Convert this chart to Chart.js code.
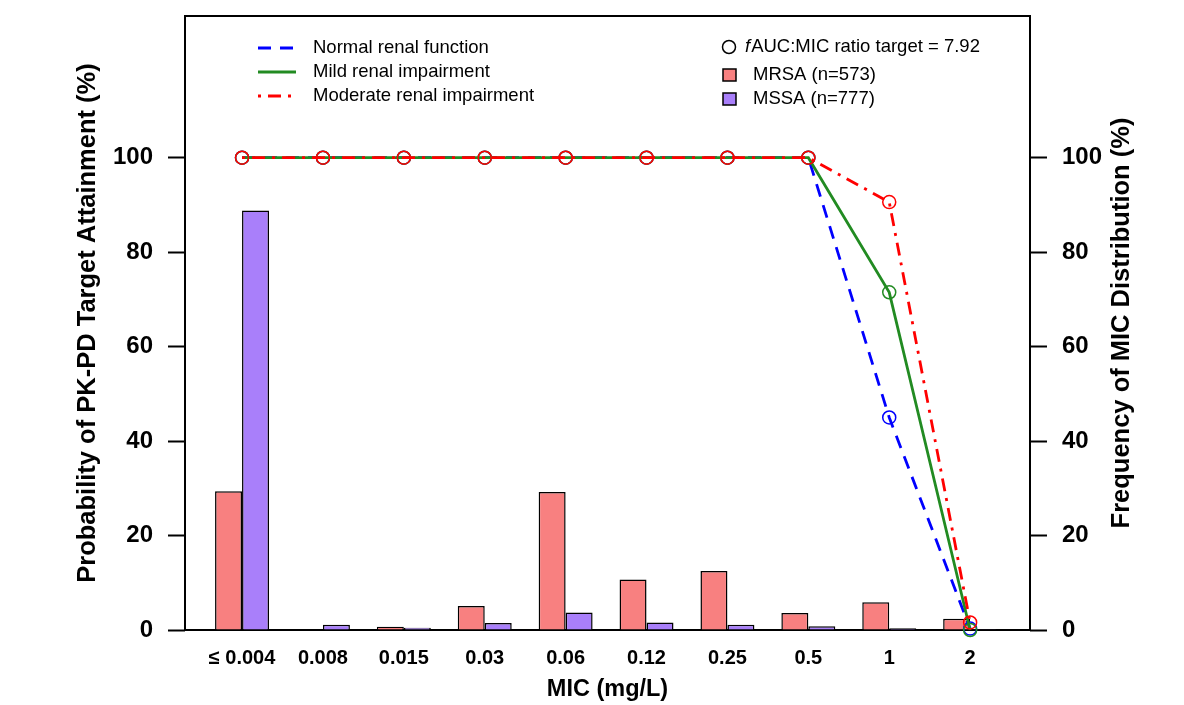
<!DOCTYPE html>
<html>
<head>
<meta charset="utf-8">
<script src="https://cdn.jsdelivr.net/npm/chart.js@4.4.0/dist/chart.umd.min.js"></script>
<style>
html,body{margin:0;padding:0;background:#fff;}
#wrap{width:1184px;height:705px;}
</style>
</head>
<body>
<div id="wrap"><canvas id="micChart" width="1184" height="705"></canvas></div>
<script>
// MIC categories (mg/L)
const micLabels = ['\u2264 0.004', '0.008', '0.015', '0.03', '0.06', '0.12', '0.25', '0.5', '1', '2'];
// probability of target attainment (%)
const normalPTA   = [100, 100, 100, 100, 100, 100, 100, 100, 45.0, 0.3];
const mildPTA     = [100, 100, 100, 100, 100, 100, 100, 100, 71.5, 0];
const moderatePTA = [100, 100, 100, 100, 100, 100, 100, 100, 90.6, 1.6];
// MIC distribution frequency (%)
const mrsaFreq = [29.4, 0.1, 0.7, 5.1, 29.2, 10.7, 12.5, 3.6, 5.9, 2.4];
const mssaFreq = [88.8, 1.1, 0.5, 1.5, 3.7, 1.6, 1.1, 0.8, 0.35, 0.05];
const yTicks = [0, 20, 40, 60, 80, 100];

const FONT = '"Liberation Sans", Arial, sans-serif';

function pts(arr) {
  return arr.map((v, i) => ({x: i, y: v}));
}

function lineSet(label, arr, color, dash, order) {
  return {
    type: 'line',
    label: label,
    data: pts(arr),
    yAxisID: 'y',
    borderColor: color,
    borderWidth: 2.8,
    borderDash: dash,
    backgroundColor: 'transparent',
    pointStyle: 'circle',
    pointRadius: 6.5,
    pointBorderWidth: 1.5,
    pointBorderColor: color,
    pointBackgroundColor: 'transparent',
    tension: 0,
    clip: false,
    order: order
  };
}

function noPad(s) {
  s.paddingTop = 0;
  s.paddingBottom = 0;
}

// box round the plot
const framePlugin = {
  id: 'frame',
  beforeDatasetsDraw(chart) {
    const a = chart.chartArea, ctx = chart.ctx;
    ctx.save();
    ctx.strokeStyle = '#000';
    ctx.lineWidth = 2;
    ctx.strokeRect(a.left, a.top, a.right - a.left, a.bottom - a.top);
    ctx.restore();
  }
};

// right axis title reads bottom to top, like the left one
const rightTitlePlugin = {
  id: 'rightTitle',
  afterDraw(chart) {
    const a = chart.chartArea, ctx = chart.ctx;
    ctx.save();
    ctx.translate(1122, (a.top + a.bottom) / 2);
    ctx.rotate(-Math.PI / 2);
    ctx.font = 'bold 25.5px ' + FONT;
    ctx.fillStyle = '#000';
    ctx.textAlign = 'center';
    ctx.textBaseline = 'middle';
    ctx.fillText('Frequency of MIC Distribution (%)', 0, 0);
    ctx.restore();
  }
};

// the two legend blocks inside the plot
const legendPlugin = {
  id: 'boxLegend',
  afterDraw(chart) {
    const ctx = chart.ctx;
    const ds = chart.data.datasets;
    ctx.save();
    ctx.font = '18.5px ' + FONT;
    ctx.textBaseline = 'middle';
    ctx.textAlign = 'left';
    // line legend
    for (let k = 0; k < 3; k++) {
      const y = 48 + k * 24;
      ctx.strokeStyle = ds[k].borderColor;
      ctx.lineWidth = 2.8;
      ctx.setLineDash(ds[k].borderDash);
      ctx.beginPath();
      ctx.moveTo(258, y);
      ctx.lineTo(296, y);
      ctx.stroke();
      ctx.setLineDash([]);
      ctx.fillStyle = '#000';
      ctx.fillText(ds[k].label, 313, y);
    }
    // symbol legend
    ctx.strokeStyle = '#000';
    ctx.lineWidth = 1.5;
    ctx.beginPath();
    ctx.arc(729, 47, 6.5, 0, Math.PI * 2);
    ctx.stroke();
    ctx.fillStyle = '#000';
    ctx.font = 'italic 18.5px ' + FONT;
    ctx.fillText('f', 745, 47);
    const fw = ctx.measureText('f').width;
    ctx.font = '18.5px ' + FONT;
    ctx.fillText('AUC:MIC ratio target = 7.92', 745 + fw + 1, 47);
    for (let k = 3; k < 5; k++) {
      const y = 75 + (k - 3) * 24;
      ctx.fillStyle = ds[k].backgroundColor;
      ctx.fillRect(723, y - 6, 13, 12);
      ctx.strokeStyle = '#000';
      ctx.lineWidth = 1.5;
      ctx.strokeRect(723, y - 6, 13, 12);
      ctx.fillStyle = '#000';
      ctx.fillText(ds[k].label, 753, y);
    }
    ctx.restore();
  }
};

new Chart('micChart', {
  type: 'bar',
  data: {
    datasets: [
      lineSet('Normal renal function', normalPTA, '#0000ff', [13, 9], 2),
      lineSet('Mild renal impairment', mildPTA, '#228b22', [], 1),
      lineSet('Moderate renal impairment', moderatePTA, '#ff0000', [3, 7, 13, 7], 0),
      {
        label: 'MRSA (n=573)',
        data: pts(mrsaFreq),
        yAxisID: 'y2',
        backgroundColor: '#f88080',
        borderColor: '#000',
        borderWidth: 1.5,
        borderSkipped: 'bottom',
        order: 3
      },
      {
        label: 'MSSA (n=777)',
        data: pts(mssaFreq),
        yAxisID: 'y2',
        backgroundColor: '#a97ffa',
        borderColor: '#000',
        borderWidth: 1.5,
        borderSkipped: 'bottom',
        order: 3
      }
    ]
  },
  options: {
    responsive: false,
    animation: false,
    devicePixelRatio: 1,
    categoryPercentage: 0.667,
    barPercentage: 1,
    layout: {padding: {top: 16, left: 0, right: 0, bottom: 0}},
    plugins: {legend: {display: false}, tooltip: {enabled: false}},
    scales: {
      x: {
        type: 'linear',
        min: -0.705,
        max: 9.74,
        offset: false,
        grid: {display: false, offset: false, drawTicks: false},
        border: {display: false},
        afterBuildTicks(s) { s.ticks = micLabels.map((l, i) => ({value: i})); },
        afterFit(s) { s.height = 75; s.paddingLeft = 0; s.paddingRight = 0; },
        ticks: {
          padding: 16,
          autoSkip: false,
          maxRotation: 0,
          color: '#000',
          font: {family: FONT, size: 20, weight: 'bold'},
          callback: (v) => micLabels[v]
        },
        title: {
          display: true,
          text: 'MIC (mg/L)',
          color: '#000',
          font: {family: FONT, size: 23.5, weight: 'bold'},
          padding: {top: 0, bottom: 1}
        }
      },
      y: {
        position: 'left',
        min: 0,
        max: 130,
        afterBuildTicks(s) { s.ticks = yTicks.map(v => ({value: v})); },
        afterFit(s) { s.width = 185; noPad(s); },
        grid: {drawOnChartArea: false, drawTicks: true, tickLength: 17, tickWidth: 2, tickColor: '#000'},
        border: {display: false},
        ticks: {padding: 15, color: '#000', font: {family: FONT, size: 24, weight: 'bold'}},
        title: {
          display: true,
          text: 'Probability of PK-PD Target Attainment (%)',
          color: '#000',
          font: {family: FONT, size: 25.5, weight: 'bold'},
          padding: {top: 73, bottom: 0}
        }
      },
      y2: {
        position: 'right',
        min: 0,
        max: 130,
        afterBuildTicks(s) { s.ticks = yTicks.map(v => ({value: v})); },
        afterFit(s) { s.width = 154; noPad(s); },
        grid: {drawOnChartArea: false, drawTicks: true, tickLength: 17, tickWidth: 2, tickColor: '#000'},
        border: {display: false},
        ticks: {padding: 15, color: '#000', font: {family: FONT, size: 24, weight: 'bold'}},
        title: {display: false}
      }
    }
  },
  plugins: [framePlugin, legendPlugin, rightTitlePlugin]
});
</script>
</body>
</html>
